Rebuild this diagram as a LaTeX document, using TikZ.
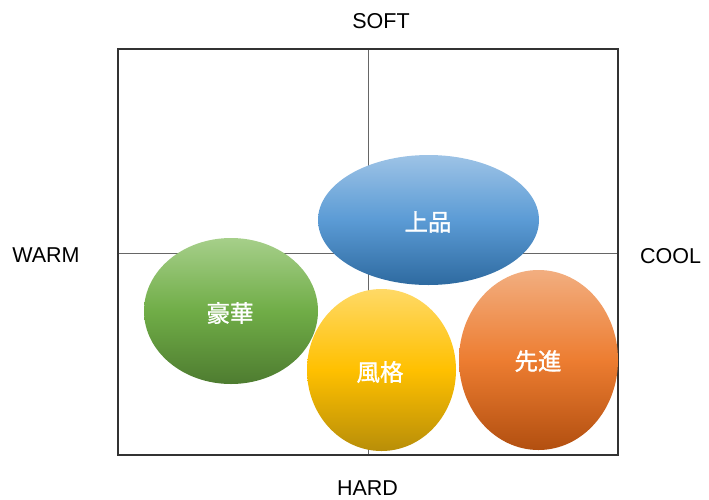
\documentclass[tikz,border=0pt]{standalone}
\usepackage{fontspec}
\setmainfont{Liberation Sans}
\newfontfamily\cjk{Noto Sans CJK JP}[FakeBold=1.2]
\definecolor{blueT}{HTML}{9DC3E6}
\definecolor{blueM}{HTML}{5B9BD5}
\definecolor{blueB}{HTML}{2E6AA0}
\definecolor{greenT}{HTML}{A6CF8A}
\definecolor{greenM}{HTML}{70AD47}
\definecolor{greenB}{HTML}{4E7C30}
\definecolor{yelT}{HTML}{FFD966}
\definecolor{yelM}{HTML}{FFC000}
\definecolor{yelB}{HTML}{B88E08}
\definecolor{orT}{HTML}{F2AE80}
\definecolor{orM}{HTML}{ED7D31}
\definecolor{orB}{HTML}{B24F10}
\tikzset{
  axislabel/.style={font=\fontsize{21.5}{25}\selectfont, inner sep=0pt, anchor=base},
  bubble/.style={ellipse, inner sep=0pt, text=white, font=\cjk\fontsize{23.5}{28}\selectfont},
  frame/.style={draw=black!80, line width=1.4pt},
  midline/.style={draw=black!60, line width=0.9pt}
}
\usetikzlibrary{shapes.geometric}
\begin{document}
\begin{tikzpicture}[x=1pt,y=-1pt]
\useasboundingbox (0,0) rectangle (709,499);
% frame
\coordinate (tl) at (118,49);
\coordinate (br) at (618,455);
\coordinate (tm) at (368,49);
\coordinate (bm) at (368,455);
\coordinate (lm) at (118,253);
\coordinate (rm) at (618,253);
\draw[midline] (tm) -- (bm);
\draw[midline] (lm) -- (rm);
\draw[frame] (tl) rectangle (br);
% axis labels
\node[axislabel] (soft) at (381,28) {SOFT};
\node[axislabel] (hard) at (367.5,495) {HARD};
\node[axislabel] (warm) at (46,262) {WARM};
\node[axislabel] (cool) at (670.5,263) {COOL};
% bubbles
\shade[top color=greenT, bottom color=greenB, middle color=greenM] (231,311) ellipse [x radius=87, y radius=73];
\shade[top color=yelT, bottom color=yelB, middle color=yelM] (381.5,370) ellipse [x radius=74.5, y radius=81];
\shade[top color=blueT, bottom color=blueB, middle color=blueM] (428.5,220) ellipse [x radius=110.5, y radius=65];
\shade[top color=orT, bottom color=orB, middle color=orM] (538.5,360) ellipse [x radius=79.5, y radius=90];
\node[bubble] (jouhin) at (428,222) {上品};
\node[bubble] (gouka) at (230,313) {豪華};
\node[bubble] (fuukaku) at (380,372) {風格};
\node[bubble] (sensin) at (538,361) {先進};
\end{tikzpicture}
\end{document}
